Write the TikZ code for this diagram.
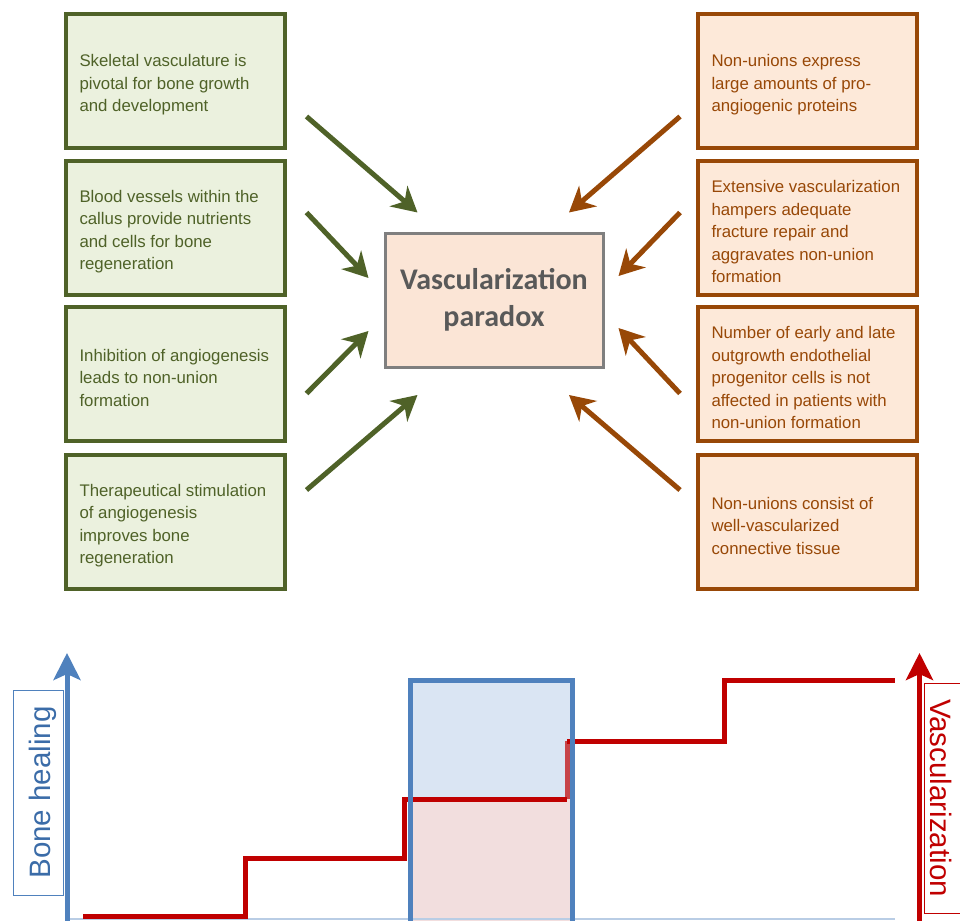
\documentclass[tikz,border=0pt]{standalone}
\usepackage{fontspec}
\setmainfont{Liberation Sans}
\newfontfamily\carlito{Carlito}
\usepackage{tikz}
\usetikzlibrary{arrows.meta,positioning}
\definecolor{grnline}{HTML}{4F6228}
\definecolor{grnfill}{HTML}{EBF1DE}
\definecolor{orgline}{HTML}{984807}
\definecolor{orgfill}{HTML}{FDE9D9}
\definecolor{parafill}{HTML}{FBE5D6}
\definecolor{paraline}{HTML}{7F7F7F}
\definecolor{paratext}{HTML}{595959}
\definecolor{axblue}{HTML}{4F81BD}
\definecolor{bhtext}{HTML}{3B6CA8}
\definecolor{boxblue}{HTML}{DAE5F3}
\definecolor{boxpink}{HTML}{F2DEDE}
\definecolor{vred}{HTML}{C00000}
\definecolor{baseblue}{HTML}{B9CDE5}

\begin{document}
\begin{tikzpicture}[x=1pt,y=-1pt,
    leftbox/.style={draw=grnline,fill=grnfill,text=grnline,line width=3.5pt,
        minimum width=219pt,minimum height=134pt,text width=192pt,inner xsep=13.5pt,
        align=flush left,font=\fontsize{16.8}{22.5}\selectfont,
        execute at begin node={\rule{0pt}{19.5pt}}},
    rightbox/.style={leftbox,draw=orgline,fill=orgfill,text=orgline},
    parabox/.style={draw=paraline,fill=parafill,text=paratext,line width=3pt,
        minimum width=218pt,minimum height=134pt,align=center,
        font=\carlito\bfseries\fontsize{30}{37}\selectfont,
        execute at begin node={\rule{0pt}{28pt}}},
    grnarrow/.style={draw=grnline,line width=5pt,-{Stealth[length=25pt,width=27pt,inset=8pt]}},
    orgarrow/.style={grnarrow,draw=orgline},
    redstep/.style={draw=vred,line width=5pt},
    axisarrow/.style={line width=5pt,-{Stealth[length=27pt,width=27pt,inset=6pt]}}]%
    \useasboundingbox (0,0) rectangle (960,920);
                    \begin{scope}
                        \tikzstyle{every node}=[leftbox];%%
                        \node (l1) at (175.5,81)  {Skeletal vasculature is\\pivotal for bone growth\\and development}; %%
                        \node (l2) at (175.5,228)  {Blood vessels within the\\callus provide nutrients\\and cells for bone\\regeneration}; %%
                        \node (l3) at (175.5,374)  {Inhibition of angiogenesis\\leads to non-union\\formation}; %%
                        \node (l4) at (175.5,522)  {Therapeutical stimulation\\of angiogenesis\\improves bone\\regeneration}; %%
                    \end{scope}
                    \begin{scope}
                        \tikzstyle{every node}=[rightbox];%%
                        \node (r1) at (807.5,81)  {Non-unions express\\large amounts of pro-\\angiogenic proteins}; %%
                        \node (r2) at (807.5,228)  {Extensive vascularization\\hampers adequate\\fracture repair and\\aggravates non-union\\formation}; %%
                        \node (r3) at (807.5,374)  {Number of early and late\\outgrowth endothelial\\progenitor cells is not\\affected in patients with\\non-union formation}; %%
                        \node (r4) at (807.5,522)  {Non-unions consist of\\well-vascularized\\connective tissue}; %%
                    \end{scope}
                        \node[parabox] (para) at (494,300) {Vascularization\\paradox}; %%
                    %% arrow ends
                        \coordinate (gs1) at (306.5,116.5); \coordinate (gt1) at (417.5,212.5); %%
                        \coordinate (gs2) at (306.5,212.5); \coordinate (gt2) at (368.5,278); %%
                        \coordinate (gs3) at (306.5,393.5); \coordinate (gt3) at (368.5,331); %%
                        \coordinate (gs4) at (306.5,490); \coordinate (gt4) at (417.5,395); %%
                        \coordinate (os1) at (680,116.5); \coordinate (ot1) at (569,212.5); %%
                        \coordinate (os2) at (680,212.5); \coordinate (ot2) at (618.5,276); %%
                        \coordinate (os3) at (680,393.5); \coordinate (ot3) at (618.5,328); %%
                        \coordinate (os4) at (680,490); \coordinate (ot4) at (569,395); %%
                        \draw[grnarrow] (gs1)--(gt1); %%
                        \draw[grnarrow] (gs2)--(gt2); %%
                        \draw[grnarrow] (gs3)--(gt3); %%
                        \draw[grnarrow] (gs4)--(gt4); %%
                        \draw[orgarrow] (os1)--(ot1); %%
                        \draw[orgarrow] (os2)--(ot2); %%
                        \draw[orgarrow] (os3)--(ot3); %%
                        \draw[orgarrow] (os4)--(ot4); %%
                    %% chart
                        \fill[boxblue] (410,680) rectangle (572.5,922); %%
                        \fill[boxpink] (410,799) rectangle (572.5,922); %%
                        \draw[baseblue,line width=2pt] (67,918.5)--(895,918.5); %%
                        \draw[redstep] (83,916.5)--(245,916.5)--(245,858.5)--(404.5,858.5)--(404.5,799)--(567,799); %%
                        \draw[redstep,opacity=.7] (567,799)--(567,741); %%
                        \draw[redstep] (567,741)--(724,741)--(724,680)--(895,680); %%
                        \draw[axblue,line width=5pt] (410,922) |- (572.5,680) -- (572.5,922); %%
                        \node[rotate=90,anchor=north,draw=axblue,line width=1pt,fill=white,text=bhtext,
                            inner sep=0pt,minimum width=205pt,text height=37pt,text depth=13pt,
                            font=\fontsize{29.5}{30}\selectfont] (bone) at (13,792.5) {Bone healing}; %%
                        \node[rotate=-90,anchor=south,draw=vred,line width=1pt,fill=white,text=vred,
                            inner sep=0pt,minimum width=230pt,text height=45pt,text depth=6.5pt,
                            font=\fontsize{29.5}{30}\selectfont] (vasc) at (923.5,798) {Vascularization}; %%
                        \draw[axisarrow,axblue] (67,922)--(67,653); %%
                        \draw[axisarrow,vred] (919.5,922)--(919.5,653); %%
                    \end{tikzpicture}
\end{document}
